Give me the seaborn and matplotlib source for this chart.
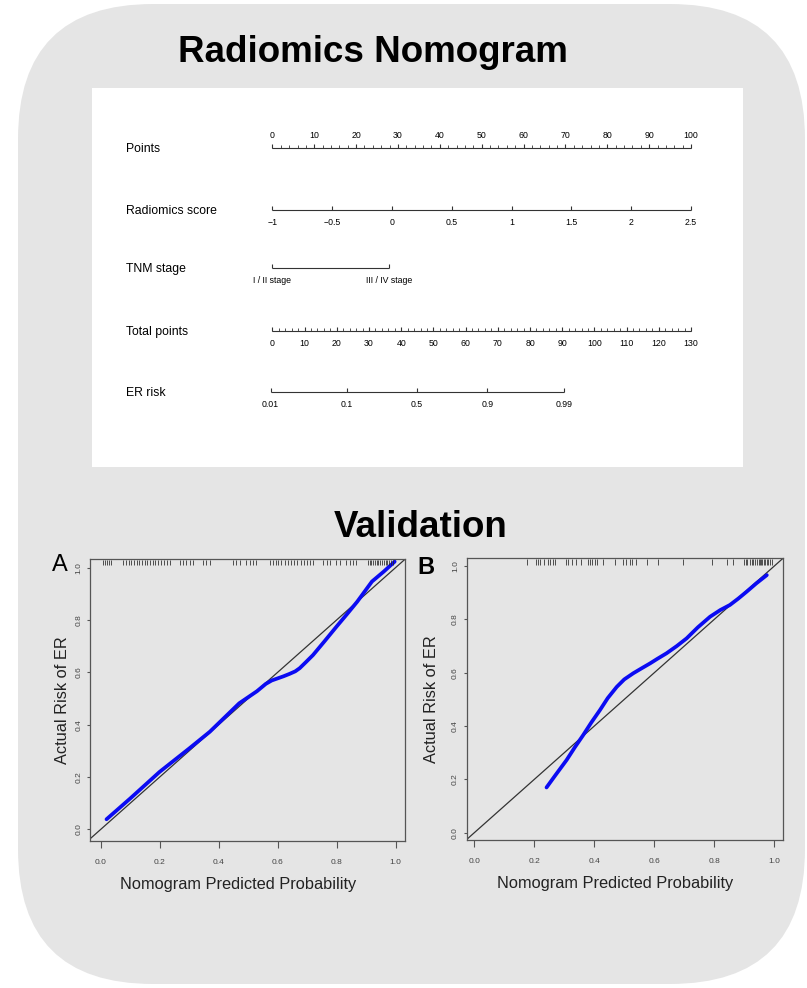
import numpy as np
import pandas as pd
import seaborn as sns
import matplotlib.pyplot as plt
import matplotlib.transforms as mtransforms
from matplotlib.patches import FancyBboxPatch, Rectangle

# ---- nomogram scales ----
row_names = ['Points', 'Radiomics score', 'TNM stage', 'Total points', 'ER risk']
points_ticks = np.arange(0, 101, 10)
radiomics_ticks = [-1, -0.5, 0, 0.5, 1, 1.5, 2, 2.5]
radiomics_labels = ['\u22121', '\u22120.5', '0', '0.5', '1', '1.5', '2', '2.5']
tnm_labels = ['I / II stage', 'III / IV stage']
tnm_points = [0, 27.8]
total_ticks = np.arange(0, 131, 10)
er_ticks = [0.01, 0.1, 0.5, 0.9, 0.99]
er_labels = ['0.01', '0.1', '0.5', '0.9', '0.99']
lp_intercept = -4.54   # linear predictor at 0 total points
lp_slope = 0.101       # per total point

# ---- calibration curves (validation) ----
pred_a = [0.02, 0.10, 0.20, 0.30, 0.37, 0.47, 0.53, 0.56, 0.58, 0.60, 0.62, 0.64, 0.66,
          0.675, 0.695, 0.72, 0.76, 0.80, 0.835, 0.87, 0.92, 0.96, 0.997]
obs_a = [0.039, 0.118, 0.22, 0.309, 0.373, 0.482, 0.528, 0.556, 0.569, 0.577, 0.585, 0.594, 0.604,
         0.616, 0.638, 0.666, 0.72, 0.775, 0.822, 0.870, 0.947, 0.985, 1.023]
rug_a = [0.009, 0.015, 0.021, 0.028, 0.034,
         0.077, 0.086, 0.095, 0.104, 0.113, 0.122,
         0.131, 0.140, 0.149, 0.158, 0.167,
         0.178, 0.186, 0.196, 0.205, 0.215, 0.226, 0.235,
         0.269, 0.280, 0.291, 0.302, 0.314,
         0.347, 0.358, 0.370,
         0.449, 0.460, 0.472,
         0.494, 0.505, 0.516, 0.528,
         0.573, 0.583, 0.593, 0.603, 0.613, 0.624, 0.634, 0.645, 0.656, 0.667,
         0.678, 0.689, 0.699, 0.710, 0.720,
         0.754, 0.766, 0.777, 0.799, 0.810,
         0.833, 0.844, 0.855, 0.867,
         0.906, 0.912, 0.918, 0.924, 0.930, 0.936, 0.942, 0.948, 0.954,
         0.960, 0.966, 0.972, 0.978, 0.984, 0.991]

pred_b = [0.241, 0.27, 0.308, 0.335, 0.363, 0.39, 0.419, 0.445, 0.475, 0.50, 0.530, 0.56,
          0.586, 0.61, 0.641, 0.675, 0.708, 0.745, 0.786, 0.82, 0.852, 0.88, 0.908, 0.94, 0.975]
obs_b = [0.170, 0.215, 0.273, 0.32, 0.366, 0.413, 0.460, 0.505, 0.547, 0.575, 0.598, 0.618,
         0.635, 0.652, 0.673, 0.70, 0.729, 0.77, 0.810, 0.835, 0.854, 0.878, 0.904, 0.935, 0.966]
rug_b = [0.175, 0.205, 0.212, 0.219, 0.233, 0.245, 0.252, 0.262, 0.268,
         0.305, 0.313, 0.325, 0.340, 0.356,
         0.378, 0.386, 0.393, 0.402, 0.410, 0.428,
         0.468, 0.497, 0.505, 0.518, 0.527, 0.540,
         0.575, 0.613, 0.697, 0.791, 0.841, 0.863,
         0.898, 0.905, 0.910, 0.918, 0.925, 0.930, 0.936, 0.942, 0.948,
         0.952, 0.956, 0.960, 0.965, 0.970, 0.975, 0.980, 0.986, 0.991]
prob_ticks = [0.0, 0.2, 0.4, 0.6, 0.8, 1.0]

sns.set_theme(style='white')
plt.rcParams['font.family'] = ['Liberation Sans', 'DejaVu Sans']
plt.rcParams['text.color'] = 'black'

W, H = 807, 988
fig = plt.figure(figsize=(W / 100, H / 100), dpi=100)
fig.patch.set_facecolor('white')

# background panel, titles
bg = fig.add_axes([0, 0, 1, 1])
bg.set_xlim(0, W)
bg.set_ylim(H, 0)
bg.axis('off')
bg.add_patch(FancyBboxPatch((18, 4), 787, 980, boxstyle='round,pad=0,rounding_size=135',
                            fc='#e5e5e5', ec='none'))
bg.add_patch(Rectangle((92, 88), 651, 379, fc='white', ec='none'))
bg.text(373, 62, 'Radiomics Nomogram', ha='center', va='baseline', fontsize=26.5, fontweight='bold')
bg.text(421, 537, 'Validation', ha='center', va='baseline', fontsize=26.5, fontweight='bold')
bg.text(60, 565, 'A', ha='center', va='center', fontsize=17)
bg.text(426, 567, 'B', ha='center', va='center', fontsize=17, fontweight='bold')

# ---- nomogram ----
px_per_pt = (691 - 272.4) / 100
nom = fig.add_axes([92 / W, 1 - 467 / H, 651 / W, 379 / H])
nom.set_xlim((92 - 272.4) / px_per_pt, (743 - 272.4) / px_per_pt)
nom.set_ylim(467, 88)
nom.axis('off')
line_c = '#333333'


def scale_row(y, pos, labels, minor=None, above=False):
    nom.hlines(y, min(pos), max(pos), color=line_c, lw=0.8)
    if minor is not None:
        nom.vlines(minor, y, y - 2.5, color=line_c, lw=0.6)
    nom.vlines(pos, y, y - 4, color=line_c, lw=0.8)
    ly = y - 13 if above else y + 12.5
    for p, lab in zip(pos, labels):
        nom.text(p, ly, lab, ha='center', va='center', fontsize=6.3)


def total_to_axis(t):
    return np.asarray(t, dtype=float) * 100 / 130


row_y = [148, 210, 268, 331, 392]
for name, y in zip(row_names, row_y):
    nom.text((126 - 272.4) / px_per_pt, y + 1, name, ha='left', va='center', fontsize=8.8)

scale_row(row_y[0], points_ticks, [str(t) for t in points_ticks],
          minor=np.arange(0, 101, 2), above=True)
scale_row(row_y[1], (np.array(radiomics_ticks) + 1) / 3.5 * 100, radiomics_labels)
scale_row(row_y[2], tnm_points, tnm_labels)
scale_row(row_y[3], total_to_axis(total_ticks), [str(t) for t in total_ticks],
          minor=total_to_axis(np.arange(0, 131, 2)))
er = np.array(er_ticks)
er_total = (np.log(er / (1 - er)) - lp_intercept) / lp_slope
scale_row(row_y[4], total_to_axis(er_total), er_labels)


# ---- calibration panels ----
def calib_panel(rect, xlim, ylim, pred, obs, rug, ylab_x):
    ax = fig.add_axes(rect)
    ax.set_facecolor('none')
    df = pd.DataFrame({'pred': pred, 'obs': obs})
    ax.axline((0, 0), slope=1, color='#333333', lw=0.9)
    sns.lineplot(data=df, x='pred', y='obs', ax=ax, color='#0b0bf2', lw=2.7,
                 sort=False, estimator=None, solid_capstyle='round')
    trans = mtransforms.blended_transform_factory(ax.transData, ax.transAxes)
    ax.vlines(rug, 0.977, 0.997, transform=trans, color='#222222', lw=0.6, alpha=0.9)
    ax.set_xlim(xlim)
    ax.set_ylim(ylim)
    ax.set_xticks(prob_ticks)
    ax.set_xticklabels([f'{t:.1f}' for t in prob_ticks])
    ax.set_yticks(prob_ticks)
    ax.set_yticklabels([f'{t:.1f}' for t in prob_ticks], rotation=90, va='center')
    ax.tick_params(axis='x', bottom=True, length=5, width=0.8, color='#555555', pad=8,
                   labelsize=6, labelcolor='#444444')
    ax.tick_params(axis='y', left=True, length=2.5, width=0.8, color='#555555', pad=3,
                   labelsize=6, labelcolor='#444444')
    for s in ax.spines.values():
        s.set_visible(True)
        s.set_color('#555555')
        s.set_linewidth(0.9)
    ax.set_xlabel('Nomogram Predicted Probability', fontsize=11.8, color='#222222')
    ax.xaxis.set_label_coords(0.47, -0.128)
    ax.set_ylabel('Actual Risk of ER', fontsize=11.8, color='#222222')
    ax.yaxis.set_label_coords(ylab_x, 0.5)
    return ax


calib_panel([90 / W, 1 - 841 / H, 315 / W, 282 / H], (-0.036, 1.032), (-0.044, 1.033),
            pred_a, obs_a, rug_a, -0.063)
calib_panel([466.7 / W, 1 - 840 / H, 316.3 / W, 281.7 / H], (-0.025, 1.029), (-0.027, 1.029),
            pred_b, obs_b, rug_b, -0.088)

fig.savefig('out.png', dpi=100, facecolor='white')
